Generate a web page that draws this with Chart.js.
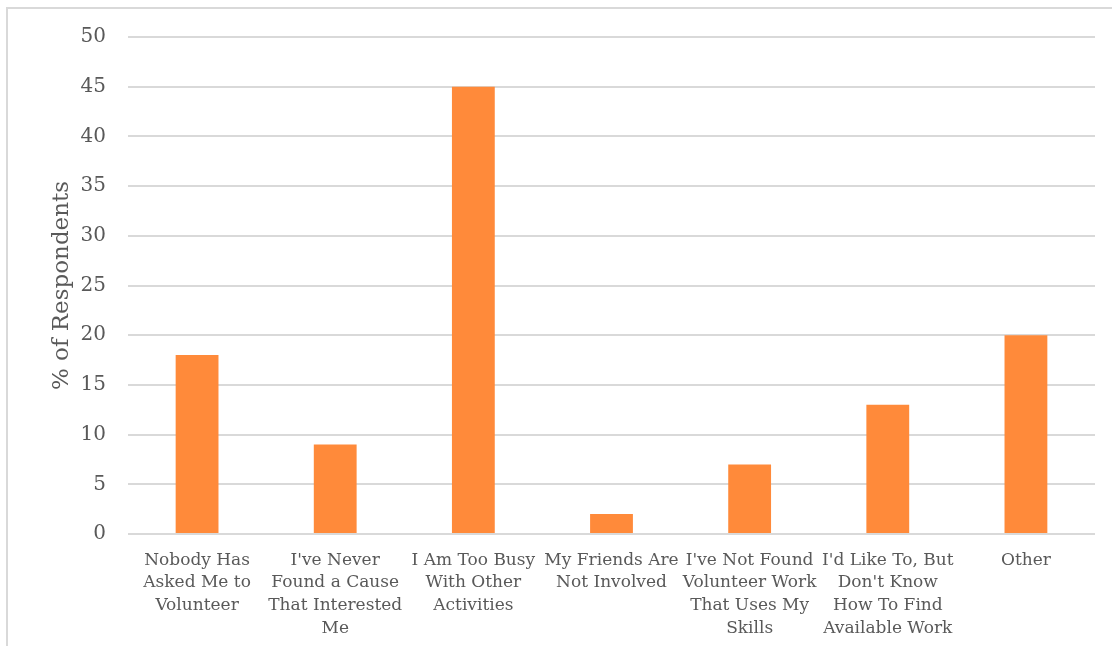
<!DOCTYPE html>
<html>
<head>
<meta charset="utf-8">
<script src="https://cdn.jsdelivr.net/npm/chart.js@4.4.1/dist/chart.umd.min.js"></script>
<style>
  html, body { margin: 0; padding: 0; background: #fff; }
  #wrap { position: relative; width: 1112px; height: 646px; overflow: hidden; }
  #frame { position: absolute; left: 6px; top: 7px; width: 1200px; height: 700px; border: 2px solid #d9d9d9; box-sizing: border-box; }
  canvas { position: absolute; left: 0; top: 0; }
</style>
</head>
<body>
<div id="wrap">
  <div id="frame"></div>
  <canvas id="chart" width="1112" height="646"></canvas>
</div>
<script>
// razones para no hacer voluntariado
const categories = [
  ['Nobody Has', 'Asked Me to', 'Volunteer'],
  ["I've Never", 'Found a Cause', 'That Interested', 'Me'],
  ['I Am Too Busy', 'With Other', 'Activities'],
  ['My Friends Are', 'Not Involved'],
  ["I've Not Found", 'Volunteer Work', 'That Uses My', 'Skills'],
  ["I'd Like To, But", "Don't Know", 'How To Find', 'Available Work'],
  ['Other'],
];
const respondents = [18, 9, 45, 2, 7, 13, 20];
const yTicks = [0, 5, 10, 15, 20, 25, 30, 35, 40, 45, 50];

const FONT = "'DejaVu Serif', serif";
const textColor = '#595959';
const gridColor = '#d9d9d9';

new Chart(document.getElementById('chart'), {
  type: 'bar',
  data: {
    labels: categories,
    datasets: [{
      data: respondents,
      backgroundColor: '#ff8a3a',
      barPercentage: 0.31,
      categoryPercentage: 1,
    }],
  },
  options: {
    responsive: false,
    animation: false,
    layout: { padding: { top: 37, right: 17, left: 0, bottom: 0 } },
    plugins: { legend: { display: false }, tooltip: { enabled: false } },
    scales: {
      x: {
        grid: { display: false },
        border: { display: false },
        ticks: {
          color: textColor,
          font: { family: FONT, size: 17, lineHeight: 1.33 },
          padding: 7,
          maxRotation: 0,
          autoSkip: false,
        },
        afterFit: s => { s.height = 112; },
      },
      y: {
        min: 0,
        max: 50,
        afterBuildTicks: s => { s.ticks = yTicks.map(v => ({ value: v })); },
        grid: { color: gridColor, lineWidth: 2, drawTicks: false },
        border: { display: false },
        ticks: {
          color: textColor,
          font: { family: FONT, size: 20 },
          padding: 22,
        },
        title: {
          display: true,
          text: '% of Respondents',
          color: textColor,
          font: { family: FONT, size: 23, weight: 'normal' },
          padding: { top: 48, bottom: 0 },
        },
        afterFit: s => { s.width = 128; },
      },
    },
  },
});
</script>
</body>
</html>
